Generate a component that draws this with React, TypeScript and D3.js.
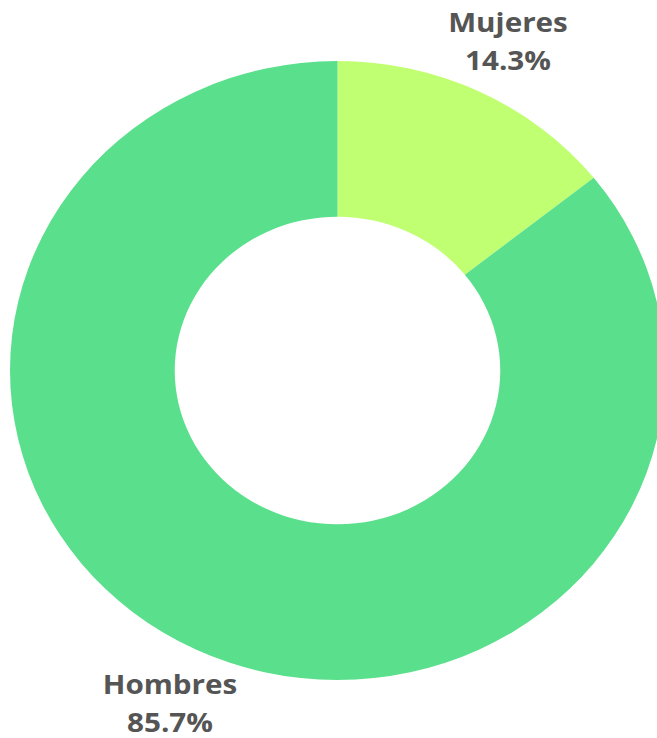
import React from "react";
import * as d3 from "d3";

const categories = ["Mujeres", "Hombres"];
const values = [14.3, 85.7];
const colors = ["#c1ff72", "#5ae08c"];

export default function App() {
  const W = 657, H = 738;
  const cx = 337.5, cy = 370.5;
  const ry = 309.5, rx = 327.5;
  const sx = rx / ry;
  const pie = d3.pie<number>().sort(null).value((d) => d);
  const arcs = pie(values);
  const arc = d3.arc<d3.PieArcDatum<number>>().innerRadius(ry * 0.497).outerRadius(ry);
  const labelPos = [
    { x: 508, y: 31.5 },
    { x: 170, y: 693.5 },
  ];
  const tx = 1.14;
  return (
    <svg width={W} height={H} style={{ position: "absolute", left: 0, top: 0 }}>
      <rect width={W} height={H} fill="#fff" />
      <g transform={`translate(${cx},${cy}) scale(${sx},1)`}>
        {arcs.map((a, i) => (
          <path key={i} d={arc(a) || ""} fill={colors[i]} />
        ))}
      </g>
      {categories.map((c, i) => (
        <g key={c} transform={`translate(${labelPos[i].x},${labelPos[i].y}) scale(${tx},1)`}>
          <text
            x={0}
            y={0}
            textAnchor="middle"
            fontFamily="'Open Sans', sans-serif"
            fontWeight="bold"
            fontSize={26}
            fill="#555555"
          >
            <tspan x={0}>{c}</tspan>
            <tspan x={0} dy={38.5}>{values[i].toFixed(1)}%</tspan>
          </text>
        </g>
      ))}
    </svg>
  );
}
